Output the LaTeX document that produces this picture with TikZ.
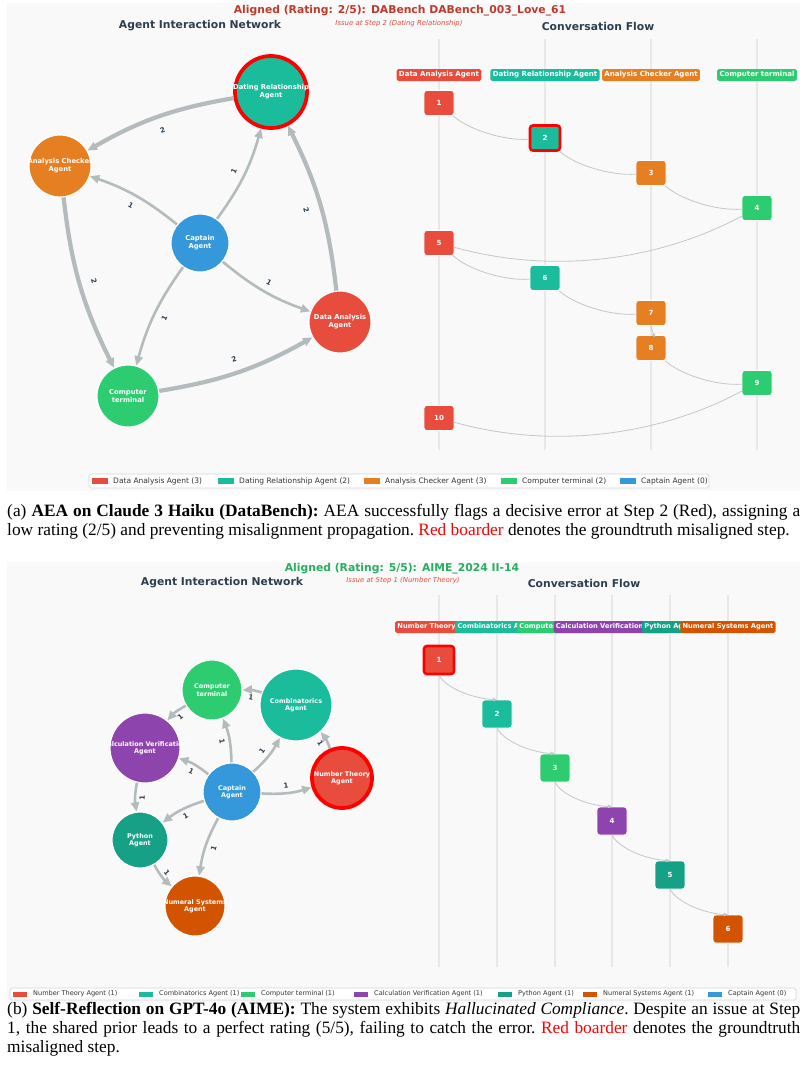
\documentclass[tikz,border=0pt]{standalone}
\usepackage{fontspec}
\setmainfont{Liberation Serif}
\newfontfamily\dv{DejaVu Sans}
\usepackage{xcolor}
\usetikzlibrary{arrows.meta,positioning,calc}

\definecolor{analysis}{HTML}{E74C3C}
\definecolor{dating}{HTML}{1ABC9C}
\definecolor{checker}{HTML}{E67E22}
\definecolor{terminal}{HTML}{2ECC71}
\definecolor{captain}{HTML}{3498DB}
\definecolor{calcpurple}{HTML}{8E44AD}
\definecolor{pyteal}{HTML}{16A085}
\definecolor{numeral}{HTML}{D35400}
\definecolor{flagred}{HTML}{FF0000}
\definecolor{inkdark}{HTML}{2C3E50}
\definecolor{titlered}{HTML}{C0392B}
\definecolor{titlegreen}{HTML}{27AE60}
\definecolor{issuered}{HTML}{E74C3C}
\definecolor{panelbg}{HTML}{F9F9F9}
\definecolor{lanegray}{HTML}{E8E8E8}
\definecolor{linkgray}{HTML}{B4BBBC}
\definecolor{flowgray}{HTML}{C3C8C9}
\definecolor{keyborder}{HTML}{D5D5D5}

\newcommand{\pxu}{0.03cm}
% a line of text that does not widen its circle
\newcommand{\fitline}[1]{\makebox[0pt]{#1}}
% a full, justified caption line
\newcommand{\capline}[1]{\makebox[23.79cm][s]{#1}}

\begin{document}
\begin{tikzpicture}[x=0.03cm, y=-0.03cm,
    agent/.style={circle, draw=white, line width=1pt, text=white, align=center, inner sep=0pt, font=\dv\bfseries\fontsize{5.8}{6.6}\selectfont},
    smallagent/.style={agent, font=\dv\bfseries\fontsize{5.5}{6.3}\selectfont},
    flagged/.style={draw=flagred, line width=3.2pt},
    link/.style={draw=linkgray, line width=2.2pt, -{Triangle[length=8pt,width=7pt]}, bend right=10},
    heavy/.style={link, line width=3.6pt},
    wlabel/.style={font=\dv\bfseries\fontsize{6}{6}\selectfont, text=inkdark, sloped, inner sep=1pt},
    paneltitle/.style={font=\dv\bfseries\fontsize{9.2}{10}\selectfont},
    subtitle/.style={font=\dv\bfseries\fontsize{9.2}{10}\selectfont, text=inkdark},
    issue/.style={font=\dv\itshape\fontsize{5.9}{6}\selectfont, text=issuered},
    header/.style={rounded corners=1.5pt, text=white, font=\dv\bfseries\fontsize{6}{6.5}\selectfont, inner xsep=2pt, inner ysep=0pt, minimum height=12*\pxu},
    smallheader/.style={header, font=\dv\bfseries\fontsize{5.7}{6.2}\selectfont},
    stepbox/.style={rounded corners=2.5pt, draw=white, line width=0.6pt, text=white, font=\dv\bfseries\fontsize{6}{6.5}\selectfont, minimum width=30*\pxu, minimum height=25*\pxu, inner sep=0pt},
    tallstep/.style={stepbox, minimum height=28*\pxu},
    flagstep/.style={draw=flagred, line width=2.2pt},
    lane/.style={draw=lanegray, line width=1.2pt},
    flow/.style={draw=flowgray, line width=0.7pt},
    flowtip/.style={flow, -{Triangle[length=3.5pt,width=3pt]}},
    keybox/.style={draw=keyborder, fill=white, rounded corners=1.5pt, line width=0.6pt},
    swatch/.style={anchor=west, minimum width=16*\pxu, minimum height=6*\pxu, inner sep=0pt},
    keytext/.style={anchor=west, inner sep=0pt, font=\dv\fontsize{6.4}{7}\selectfont, text=black!80},
    caption/.style={anchor=north west, inner sep=0pt, align=left, font=\fontsize{14.8}{16.2}\selectfont\frenchspacing}
]
\useasboundingbox (0,0) rectangle (805,1079);
\fill[white] (0,0) rectangle (805,1079);

%% ---------------- panel (a) ----------------
\fill[panelbg] (7,3) rectangle (800,491);

\node[paneltitle, text=titlered] (titlea) at (400,11) {Aligned (Rating: 2/5): DABench DABench\_003\_Love\_61};
\node[issue] (issuea) at (399,24) {Issue at Step 2 (Dating Relationship)};
\node[subtitle] (neta) at (200,26) {Agent Interaction Network};
\node[subtitle] (flowa) at (598,26) {Conversation Flow};

% network
\node[agent, flagged, fill=dating, minimum size=72*\pxu] (dra) at (271,92) {\fitline{Dating Relationship}\\\fitline{Agent}};
\node[agent, fill=checker, minimum size=62*\pxu] (aca) at (60,166) {\fitline{Analysis Checker}\\\fitline{Agent}};
\node[agent, fill=captain, minimum size=58*\pxu] (cap) at (200,243) {Captain\\Agent};
\node[agent, fill=analysis, minimum size=62*\pxu] (daa) at (340,322) {Data Analysis\\Agent};
\node[agent, fill=terminal, minimum size=62*\pxu] (ct) at (128,396) {Computer\\terminal};

\draw[heavy] (dra) to (aca);
\draw[link] (cap) to (aca);
\draw[link] (cap) to (dra);
\draw[heavy] (daa) to (dra);
\draw[heavy] (aca) to (ct);
\draw[link] (cap) to (ct);
\draw[link] (cap) to (daa);
\draw[heavy] (ct) to (daa);

\path (dra) -- node[wlabel] {2} (aca);
\path (cap) -- node[wlabel] {1} (aca);
\path (cap) -- node[wlabel] {1} (dra);
\path (daa) -- node[wlabel] {2} (dra);
\path (aca) -- node[wlabel] {2} (ct);
\path (cap) -- node[wlabel] {1} (ct);
\path (cap) -- node[wlabel] {1} (daa);
\path (ct) -- node[wlabel] {2} (daa);

% conversation flow
\foreach \x in {439,545,651,757}
  \draw[lane] (\x,39) -- (\x,450);

\node[header, fill=analysis] (ha1) at (439,75) {Data Analysis Agent};
\node[header, fill=dating] (ha2) at (545,75) {Dating Relationship Agent};
\node[header, fill=checker] (ha3) at (651,75) {Analysis Checker Agent};
\node[header, fill=terminal] (ha4) at (757,75) {Computer terminal};

\node[stepbox, fill=analysis] (a1) at (439,103) {1};
\node[stepbox, flagstep, fill=dating] (a2) at (545,138) {2};
\node[stepbox, fill=checker] (a3) at (651,173) {3};
\node[stepbox, fill=terminal] (a4) at (757,208) {4};
\node[stepbox, fill=analysis] (a5) at (439,243) {5};
\node[stepbox, fill=dating] (a6) at (545,278) {6};
\node[stepbox, fill=checker] (a7) at (651,313) {7};
\node[stepbox, fill=checker] (a8) at (651,348) {8};
\node[stepbox, fill=terminal] (a9) at (757,383) {9};
\node[stepbox, fill=analysis] (a10) at (439,418) {10};

\draw[flow] (a1) .. controls +(30,27) and +(-40,3) .. (a2);
\draw[flow] (a2) .. controls +(30,27) and +(-40,3) .. (a3);
\draw[flow] (a3) .. controls +(30,27) and +(-40,3) .. (a4);
\draw[flow] (a4) .. controls +(-101,54) and +(111,31) .. (a5);
\draw[flow] (a5) .. controls +(30,27) and +(-40,3) .. (a6);
\draw[flow] (a6) .. controls +(30,27) and +(-40,3) .. (a7);
\draw[flowtip] (a7.south) .. controls +(1,4) and +(2,0) .. (a8.north);
\draw[flow] (a8) .. controls +(30,27) and +(-40,3) .. (a9);
\draw[flow] (a9) .. controls +(-101,54) and +(111,31) .. (a10);

% legend
\draw[keybox] (89,474) rectangle (709,488);
\foreach \sx/\col/\lbl in {90/analysis/{Data Analysis Agent (3)}, 216/dating/{Dating Relationship Agent (2)},
    362/checker/{Analysis Checker Agent (3)}, 499/terminal/{Computer terminal (2)}, 618/captain/{Captain Agent (0)}} {
  \node[swatch, fill=\col] at (\sx+2,481) {};
  \node[keytext] at (\sx+23,481) {\lbl};
}

\node[caption] (capa) at (7,504) {\capline{(a) \textbf{AEA on Claude 3 Haiku (DataBench):} AEA successfully flags a decisive error at Step 2 (Red), assigning a}\\
  low rating (2/5) and preventing misalignment propagation. \textcolor{red}{Red boarder} denotes the groundtruth misaligned step.};

%% ---------------- panel (b) ----------------
\fill[panelbg] (7,562) rectangle (800,1003);

\node[paneltitle, text=titlegreen] (titleb) at (402,569) {Aligned (Rating: 5/5): AIME\_2024 II-14};
\node[issue] (issueb) at (403,581) {Issue at Step 1 (Number Theory)};
\node[subtitle] (netb) at (222,583) {Agent Interaction Network};
\node[subtitle] (flowb) at (584,583) {Conversation Flow};

% network
\node[smallagent, fill=terminal, minimum size=60*\pxu] (ct2) at (212,690) {Computer\\terminal};
\node[smallagent, fill=dating, minimum size=72*\pxu] (comb) at (296,705) {Combinatorics\\Agent};
\node[smallagent, fill=calcpurple, minimum size=70*\pxu] (calc) at (145,748) {\fitline{Calculation Verification}\\\fitline{Agent}};
\node[smallagent, fill=captain, minimum size=58*\pxu] (cap2) at (232,792) {Captain\\Agent};
\node[smallagent, flagged, fill=analysis, minimum size=60*\pxu] (nt) at (342,778) {\fitline{Number Theory}\\\fitline{Agent}};
\node[smallagent, fill=pyteal, minimum size=56*\pxu] (py) at (140,840) {Python\\Agent};
\node[smallagent, fill=numeral, minimum size=60*\pxu] (ns) at (195,906) {\fitline{Numeral Systems}\\\fitline{Agent}};

\draw[link] (comb) to (ct2);
\draw[link] (ct2) to (calc);
\draw[link] (cap2) to (ct2);
\draw[link] (cap2) to (comb);
\draw[link] (nt) to (comb);
\draw[link] (cap2) to (calc);
\draw[link] (cap2) to (nt);
\draw[link] (calc) to (py);
\draw[link] (cap2) to (py);
\draw[link] (cap2) to (ns);
\draw[link] (py) to (ns);

\path (comb) -- node[wlabel] {1} (ct2);
\path (ct2) -- node[wlabel] {1} (calc);
\path (cap2) -- node[wlabel] {1} (ct2);
\path (cap2) -- node[wlabel] {1} (comb);
\path (nt) -- node[wlabel] {1} (comb);
\path (cap2) -- node[wlabel] {1} (calc);
\path (cap2) -- node[wlabel] {1} (nt);
\path (calc) -- node[wlabel] {1} (py);
\path (cap2) -- node[wlabel] {1} (py);
\path (cap2) -- node[wlabel] {1} (ns);
\path (py) -- node[wlabel] {1} (ns);

% conversation flow
\foreach \x in {439,497,555,612,670,728}
  \draw[lane] (\x,595) -- (\x,967);

\node[smallheader, fill=analysis] (hb1) at (439,627) {Number Theory Agent};
\node[smallheader, fill=dating] (hb2) at (497,627) {Combinatorics Agent};
\node[smallheader, fill=terminal] (hb3) at (555,627) {Computer terminal};
\node[smallheader, fill=calcpurple] (hb4) at (612,627) {Calculation Verification Agent};
\node[smallheader, fill=pyteal] (hb5) at (670,627) {Python Agent};
\node[smallheader, fill=numeral] (hb6) at (728,627) {Numeral Systems Agent};

\node[tallstep, flagstep, fill=analysis] (b1) at (439,660) {1};
\node[tallstep, fill=dating] (b2) at (497,714) {2};
\node[tallstep, fill=terminal] (b3) at (555,768) {3};
\node[tallstep, fill=calcpurple] (b4) at (612,821) {4};
\node[tallstep, fill=pyteal] (b5) at (670,875) {5};
\node[tallstep, fill=numeral] (b6) at (728,929) {6};

\draw[flowtip] (b1.south) .. controls +(8,14) and +(-22,-1) .. (b2.north);
\draw[flowtip] (b2.south) .. controls +(8,14) and +(-22,-1) .. (b3.north);
\draw[flowtip] (b3.south) .. controls +(8,14) and +(-22,-1) .. (b4.north);
\draw[flowtip] (b4.south) .. controls +(8,14) and +(-22,-1) .. (b5.north);
\draw[flowtip] (b5.south) .. controls +(8,14) and +(-22,-1) .. (b6.north);

% legend
\draw[keybox] (10,988) rectangle (796,1000);
\foreach \sx/\col/\lbl in {13/analysis/{Number Theory Agent (1)}, 139/dating/{Combinatorics Agent (1)},
    241/terminal/{Computer terminal (1)}, 354/calcpurple/{Calculation Verification Agent (1)},
    498/pyteal/{Python Agent (1)}, 583/numeral/{Numeral Systems Agent (1)}, 708/captain/{Captain Agent (0)}} {
  \node[swatch, minimum width=14*\pxu, minimum height=5*\pxu, fill=\col] at (\sx,994) {};
  \node[keytext, font=\dv\fontsize{5.6}{6.5}\selectfont] at (\sx+20,994) {\lbl};
}

\node[caption] (capb) at (7,1002) {\capline{(b) \textbf{Self-Reflection on GPT-4o (AIME):} The system exhibits \textit{Hallucinated Compliance}. Despite an issue at Step}\\
  \capline{1, the shared prior leads to a perfect rating (5/5), failing to catch the error. \textcolor{red}{Red boarder} denotes the groundtruth}\\
  misaligned step.};

\end{tikzpicture}
\end{document}
